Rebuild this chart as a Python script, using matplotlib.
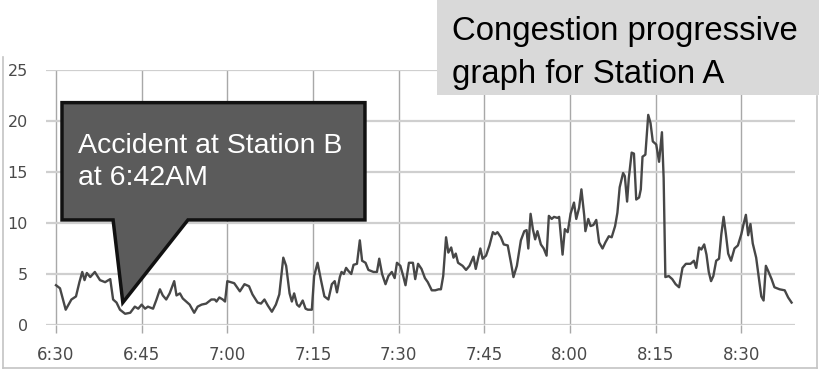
import numpy as np
import matplotlib.pyplot as plt
from matplotlib.patches import Polygon, Rectangle
from matplotlib.lines import Line2D

# minutes after 6:30 and congestion level
minutes = [0.0, 0.7, 1.7, 2.2, 2.7, 3.5, 4.1, 4.6, 5.0, 5.4, 6.0, 6.8, 7.7, 8.6, 9.5,
           10.0, 10.6, 11.2, 12.1, 13.0, 13.8, 14.4, 15.0, 15.6, 16.1, 17.0, 17.6,
           18.2, 18.7, 19.3, 19.9, 20.7, 21.1, 21.7, 22.2, 22.8, 23.4, 24.2, 24.8,
           25.5, 26.3, 27.2, 27.8, 28.1, 28.6, 29.2, 29.6, 30.0, 30.6, 31.2, 32.2,
           33.0, 33.8, 34.4, 35.3, 35.9, 36.5, 37.1, 37.8, 38.5, 39.1, 39.8, 40.3,
           40.9, 41.3, 41.7, 42.2, 42.6, 43.2, 43.7, 44.1, 44.8, 45.2, 45.8, 46.4,
           47.0, 47.7, 48.3, 48.8, 49.2, 49.7, 50.0, 50.4, 50.8, 51.2, 51.7, 52.1,
           52.7, 53.2, 53.6, 54.2, 54.7, 55.6, 56.2, 56.6, 57.1, 57.7, 58.2, 58.8,
           59.3, 59.7, 60.3, 60.8, 61.2, 61.8, 62.5, 62.9, 63.4, 64.0, 64.6, 65.1,
           65.8, 66.4, 67.0, 67.4, 67.8, 68.3, 68.7, 69.2, 69.6, 70.0, 70.4, 71.2,
           71.8, 72.4, 73.1, 73.5, 74.3, 74.7, 75.3, 75.9, 76.5, 76.9, 77.3, 77.9,
           78.4, 79.1, 79.7, 80.1, 80.7, 81.4, 82.0, 82.4, 82.7, 83.1, 83.5, 83.9,
           84.3, 84.9, 85.4, 85.9, 86.3, 86.8, 87.2, 87.8, 88.1, 88.7, 89.1, 89.6,
           90.1, 90.7, 91.1, 91.6, 92.0, 92.5, 92.7, 93.2, 93.6, 94.1, 94.6, 95.1,
           95.7, 96.2, 96.8, 97.3, 97.9, 98.3, 98.7, 99.0, 99.3, 99.6, 100.0, 100.3,
           100.8, 101.2, 101.6, 102.1, 102.4, 102.7, 103.2, 103.7, 104.1, 104.5,
           105.1, 105.6, 106.1, 106.4, 106.7, 107.3, 107.9, 108.5, 109.1, 109.7,
           110.3, 111.1, 111.7, 112.1, 112.6, 113.0, 113.5, 113.9, 114.3, 114.7,
           115.1, 115.6, 116.1, 116.5, 116.9, 117.3, 117.7, 118.2, 118.8, 119.4,
           120.0, 120.4, 120.8, 121.2, 121.6, 122.0, 122.6, 123.1, 123.5, 123.9,
           124.3, 124.7, 125.3, 125.8, 126.7, 127.6, 128.2, 128.8]
congestion = [3.9, 3.6, 1.5, 2.0, 2.5, 2.8, 4.2, 5.2, 4.4, 5.1, 4.7, 5.2, 4.4, 4.2, 4.5,
              2.5, 2.2, 1.5, 1.1, 1.2, 1.8, 1.6, 2.0, 1.6, 1.8, 1.6, 2.5,
              3.5, 2.9, 2.5, 3.1, 4.3, 2.9, 3.1, 2.6, 2.3, 2.0, 1.2, 1.8,
              2.0, 2.1, 2.5, 2.5, 2.3, 2.7, 2.5, 2.3, 4.3, 4.2, 4.1, 3.3,
              4.0, 3.8, 3.0, 2.2, 2.1, 2.5, 1.9, 1.3, 2.0, 3.0, 6.6, 5.8,
              3.1, 2.3, 3.1, 2.0, 1.8, 2.4, 1.6, 1.5, 1.5, 4.8, 6.1, 4.4,
              2.8, 2.5, 4.0, 4.3, 3.2, 4.7, 5.2, 5.0, 5.6, 5.3, 5.0, 5.9,
              6.0, 8.3, 6.3, 6.1, 5.4, 5.2, 5.2, 6.5, 5.0, 4.0, 4.8, 5.2,
              4.6, 6.1, 5.8, 4.8, 3.9, 6.1, 6.1, 4.5, 6.0, 5.5, 4.6, 4.2,
              3.4, 3.4, 3.5, 3.5, 4.8, 8.6, 7.1, 7.6, 6.6, 7.0, 6.1, 5.8,
              5.4, 5.8, 6.7, 5.5, 7.5, 6.5, 6.8, 7.8, 9.1, 8.9, 9.1, 8.6,
              7.9, 7.8, 6.0, 4.7, 5.8, 8.3, 9.2, 9.3, 7.5, 10.9, 9.4, 8.4,
              9.2, 7.9, 7.5, 6.8, 10.7, 10.4, 10.6, 10.5, 10.6, 6.9, 9.4, 9.1,
              10.9, 12.0, 10.4, 11.5, 13.3, 10.7, 9.2, 10.4, 9.7, 9.8, 10.3, 8.1,
              7.5, 8.1, 8.7, 8.6, 9.7, 11.0, 13.5, 14.2, 14.9, 14.6, 12.1, 14.4,
              16.9, 16.8, 12.3, 12.5, 13.3, 16.5, 16.7, 20.6, 19.8, 18.0,
              17.7, 16.0, 18.9, 14.4, 4.7, 4.8, 4.5, 4.0, 3.7, 5.6,
              6.0, 6.0, 6.3, 5.6, 7.6, 7.4, 7.9, 6.9, 5.2, 4.3,
              4.8, 6.3, 6.5, 8.9, 10.6, 8.9, 7.0, 6.3, 7.5, 7.8,
              8.9, 9.9, 10.8, 8.8, 9.9, 8.0, 6.6, 4.5, 2.8, 2.4,
              5.8, 5.3, 4.5, 3.7, 3.5, 3.4, 2.7, 2.2]

tick_minutes = [0, 15, 30, 45, 60, 75, 90, 105, 120]
tick_labels = ["6:30", "6:45", "7:00", "7:15", "7:30", "7:45", "8:00", "8:15", "8:30"]
y_ticks = [0, 5, 10, 15, 20, 25]

accident_minute = 11.7
accident_level = 2.2

W, H = 819, 370
fig = plt.figure(figsize=(W / 100, H / 100), dpi=100)
fig.patch.set_facecolor("white")

# plot area in pixels: x 46..795, y 70..325
ax = fig.add_axes([46 / W, (H - 325) / H, (795 - 46) / W, (325 - 70) / H])
ax.set_xlim(-1.75, 129.4)
ax.set_ylim(0, 25)
for s in ax.spines.values():
    s.set_visible(False)

ax.set_yticks(y_ticks)
ax.set_xticks(tick_minutes)
ax.set_xticklabels(tick_labels)
ax.grid(axis="y", color="#cfcfcf", lw=1.6)
ax.grid(axis="x", color="#a8a8a8", lw=1.0)
ax.set_axisbelow(True)
ax.tick_params(axis="y", length=0, pad=13, labelsize=11.5, labelcolor="#4a4a4a")
ax.tick_params(axis="x", length=6, width=1.0, color="#a8a8a8", pad=9,
               labelsize=12, labelcolor="#4a4a4a")

ax.plot(minutes, congestion, color="#474747", lw=1.7, zorder=3)

# callout box pointing at the accident time
box_x0, box_x1 = 1.05, 54.1
box_y0, box_y1 = 10.3, 21.8
base_x0, base_x1 = 10.0, 23.1
callout = Polygon([(box_x0, box_y0), (box_x0, box_y1), (box_x1, box_y1), (box_x1, box_y0),
                   (base_x1, box_y0), (accident_minute, accident_level), (base_x0, box_y0)],
                  closed=True, facecolor="#5b5b5b", edgecolor="#111111", lw=2.5,
                  zorder=5, clip_on=False, joinstyle="miter")
ax.add_patch(callout)
ax.text(3.8, 16.0, "Accident at Station B\nat 6:42AM", color="white",
        fontsize=20.5, family="Liberation Sans", va="center", ha="left",
        linespacing=1.3, zorder=6)

# outer chart frame
frame = dict(color="#c4c4c4", lw=1.2)
fig.add_artist(Line2D([3 / W, 3 / W], [1 - 57 / H, 1 - 368 / H], **frame))
fig.add_artist(Line2D([3 / W, 817 / W], [1 - 368 / H, 1 - 368 / H], **frame))
fig.add_artist(Line2D([817 / W, 817 / W], [1 - 96 / H, 1 - 368 / H], **frame))

# title box
fig.add_artist(Rectangle((437 / W, 1 - 95 / H), (W - 437) / W, 95 / H,
                         transform=fig.transFigure, facecolor="#d9d9d9",
                         edgecolor="none", zorder=10))
fig.text(452 / W, 1 - 53 / H, "Congestion progressive\ngraph for Station A",
         fontsize=23.7, family="Liberation Sans", color="black", va="center",
         ha="left", linespacing=1.5, zorder=11)

fig.savefig("out.png", dpi=100)
